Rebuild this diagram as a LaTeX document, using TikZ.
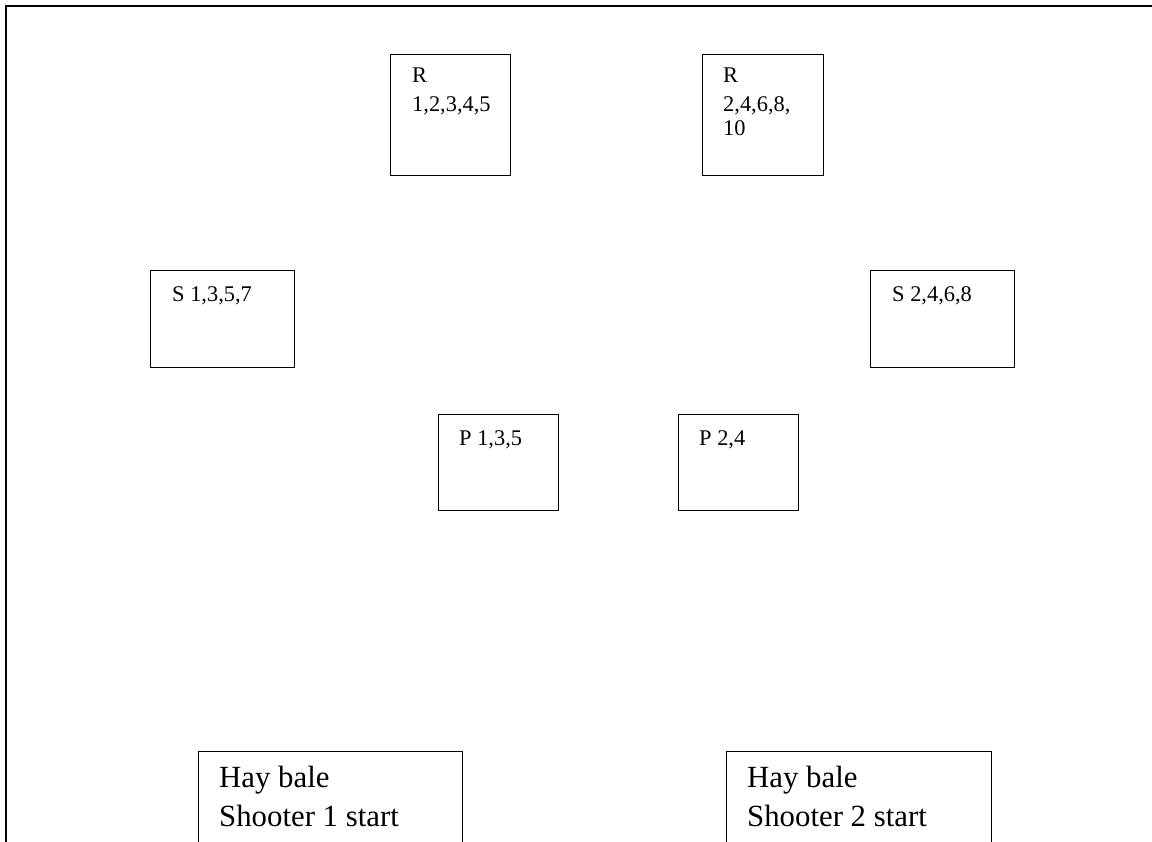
\documentclass[tikz,border=0pt]{standalone}
\usepackage{fontspec}
\setmainfont{Liberation Serif}
\begin{document}
\begin{tikzpicture}[x=1pt,y=-1pt,
  station/.style={draw=black,line width=1.4pt,rectangle,inner sep=0pt,anchor=north west},
  smalltxt/.style={inner sep=0pt,anchor=base west,font=\fontsize{22.4}{26}\selectfont},
  bigtxt/.style={inner sep=0pt,anchor=base west,font=\fontsize{30.8}{38}\selectfont}]
\clip (0,0) rectangle (1152,842);
\fill[white] (0,0) rectangle (1152,842);
% outer border (top and left)
\coordinate (tl) at (6,6);
\coordinate (tr) at (1160,6);
\coordinate (bl) at (6,850);
\draw[line width=2pt] (tr) -- (tl) -- (bl);
% R boxes
\node[station,minimum width=120pt,minimum height=121pt] (r1) at (390,54) {};
\node[station,minimum width=121pt,minimum height=121pt] (r2) at (702,54) {};
% S boxes
\node[station,minimum width=144pt,minimum height=97pt] (s1) at (150,270) {};
\node[station,minimum width=144pt,minimum height=97pt] (s2) at (870,270) {};
% P boxes
\node[station,minimum width=120pt,minimum height=96pt] (p1) at (438,414) {};
\node[station,minimum width=120pt,minimum height=96pt] (p2) at (678,414) {};
% Hay bale boxes
\node[station,minimum width=264pt,minimum height=140pt] (h1) at (198,751) {};
\node[station,minimum width=265pt,minimum height=140pt] (h2) at (726,751) {};
% texts
\node[smalltxt] (r1a) at (412,83) {R};
\node[smalltxt] (r1b) at (412,112) {1,2,3,4,5};
\node[smalltxt] (r2a) at (723,83) {R};
\node[smalltxt] (r2b) at (723,112) {2,4,6,8,};
\node[smalltxt] (r2c) at (723,136) {10};
\node[smalltxt] (s1a) at (172,302) {S 1,3,5,7};
\node[smalltxt] (s2a) at (892,302) {S 2,4,6,8};
\node[smalltxt] (p1a) at (459,446) {P 1,3,5};
\node[smalltxt] (p2a) at (699,446) {P 2,4};
\node[bigtxt] (h1a) at (219,787) {Hay bale};
\node[bigtxt] (h1b) at (219,826) {Shooter 1 start};
\node[bigtxt] (h2a) at (747,787) {Hay bale};
\node[bigtxt] (h2b) at (747,826) {Shooter 2 start};
\end{tikzpicture}
\end{document}
